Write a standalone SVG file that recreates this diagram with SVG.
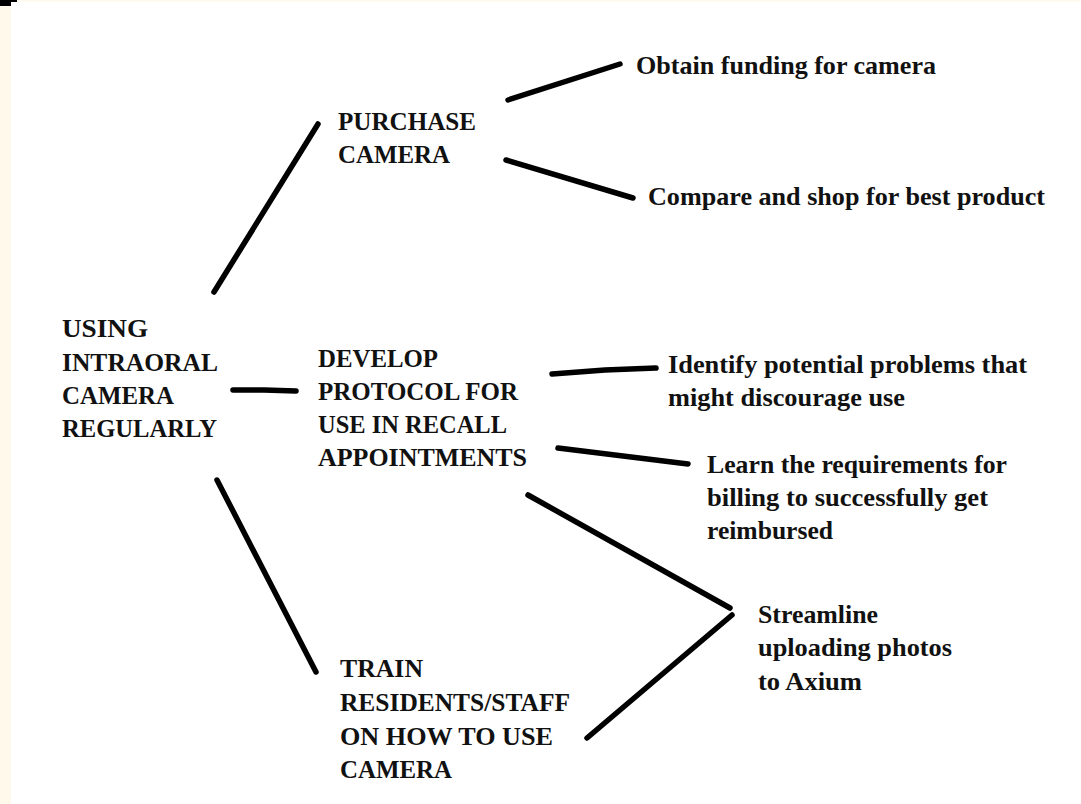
<svg xmlns="http://www.w3.org/2000/svg" width="1081" height="804" viewBox="0 0 1081 804">
<style>
.t{font-family:"Liberation Serif","Times New Roman",serif;font-weight:bold;font-size:25px;fill:#111}
.c{stroke:#000;stroke-width:5.5;stroke-linecap:round;stroke-linejoin:round;fill:none}
</style>
<rect x="0" y="0" width="1081" height="804" fill="#ffffff"/>
<rect x="0" y="0" width="11" height="804" fill="#fff9ec"/>
<rect x="0" y="0" width="1081" height="1.5" fill="#fff9ec"/>
<path d="M0 0H17V2H11V6H0Z" fill="#000"/>
<g id="connectors">
<line class="c" x1="214" y1="292" x2="318" y2="124"/>
<polyline class="c" points="233,390 264,390 296,391"/>
<line class="c" x1="217" y1="480" x2="316" y2="672"/>
<line class="c" x1="508" y1="100" x2="620" y2="64"/>
<line class="c" x1="506" y1="160" x2="633" y2="198"/>
<polyline class="c" points="552,374 605,370 656,368"/>
<line class="c" x1="558" y1="448" x2="688" y2="464"/>
<line class="c" x1="528" y1="495" x2="730" y2="608"/>
<line class="c" x1="732" y1="615" x2="587" y2="738"/>
</g>
<g id="root">
<text class="t" x="62" y="337" textLength="86" lengthAdjust="spacingAndGlyphs">USING</text>
<text class="t" x="62" y="371" textLength="156" lengthAdjust="spacingAndGlyphs">INTRAORAL</text>
<text class="t" x="62" y="404" textLength="112" lengthAdjust="spacingAndGlyphs">CAMERA</text>
<text class="t" x="62" y="437" textLength="155" lengthAdjust="spacingAndGlyphs">REGULARLY</text>
</g>
<g id="purchase">
<text class="t" x="338" y="130" textLength="138" lengthAdjust="spacingAndGlyphs">PURCHASE</text>
<text class="t" x="338" y="163" textLength="112" lengthAdjust="spacingAndGlyphs">CAMERA</text>
</g>
<g id="develop">
<text class="t" x="318" y="367" textLength="120" lengthAdjust="spacingAndGlyphs">DEVELOP</text>
<text class="t" x="318" y="400" textLength="200" lengthAdjust="spacingAndGlyphs">PROTOCOL FOR</text>
<text class="t" x="318" y="433" textLength="189" lengthAdjust="spacingAndGlyphs">USE IN RECALL</text>
<text class="t" x="318" y="466" textLength="209" lengthAdjust="spacingAndGlyphs">APPOINTMENTS</text>
</g>
<g id="train">
<text class="t" x="340" y="677" textLength="83" lengthAdjust="spacingAndGlyphs">TRAIN</text>
<text class="t" x="340" y="711" textLength="230" lengthAdjust="spacingAndGlyphs">RESIDENTS/STAFF</text>
<text class="t" x="340" y="745" textLength="213" lengthAdjust="spacingAndGlyphs">ON HOW TO USE</text>
<text class="t" x="340" y="778" textLength="112" lengthAdjust="spacingAndGlyphs">CAMERA</text>
</g>
<g id="obtain">
<text class="t" x="636" y="74" textLength="300" lengthAdjust="spacingAndGlyphs">Obtain funding for camera</text>
</g>
<g id="compare">
<text class="t" x="648" y="205" textLength="397" lengthAdjust="spacingAndGlyphs">Compare and shop for best product</text>
</g>
<g id="identify">
<text class="t" x="668" y="373" textLength="359" lengthAdjust="spacingAndGlyphs">Identify potential problems that</text>
<text class="t" x="668" y="406" textLength="237" lengthAdjust="spacingAndGlyphs">might discourage use</text>
</g>
<g id="learn">
<text class="t" x="707" y="473" textLength="300" lengthAdjust="spacingAndGlyphs">Learn the requirements for</text>
<text class="t" x="707" y="506" textLength="281" lengthAdjust="spacingAndGlyphs">billing to successfully get</text>
<text class="t" x="707" y="539" textLength="126" lengthAdjust="spacingAndGlyphs">reimbursed</text>
</g>
<g id="streamline">
<text class="t" x="758" y="623" textLength="120" lengthAdjust="spacingAndGlyphs">Streamline</text>
<text class="t" x="758" y="656" textLength="194" lengthAdjust="spacingAndGlyphs">uploading photos</text>
<text class="t" x="758" y="690" textLength="104" lengthAdjust="spacingAndGlyphs">to Axium</text>
</g>
</svg>
